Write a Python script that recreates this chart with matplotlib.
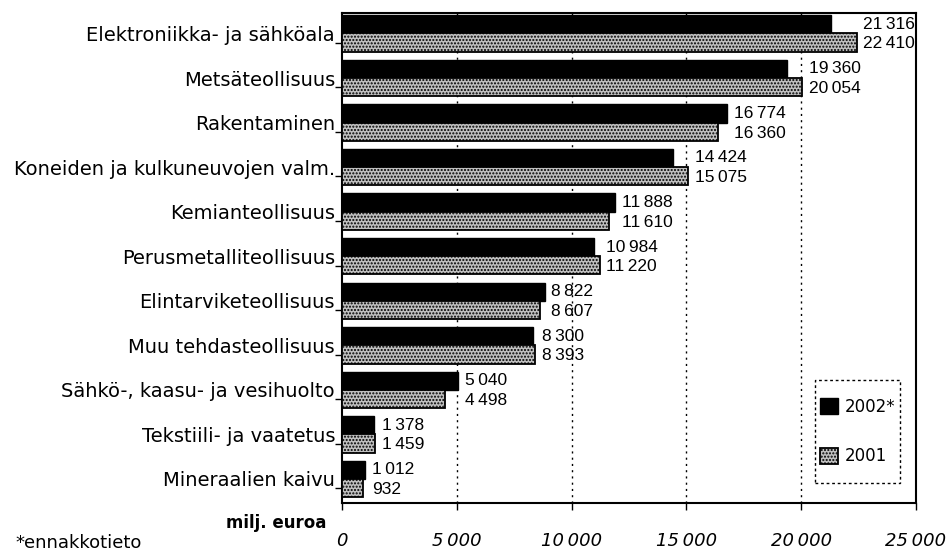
import numpy as np
import matplotlib
matplotlib.use("Agg")
import matplotlib.pyplot as plt
from matplotlib.patches import Patch, Rectangle

categories = ["Elektroniikka- ja sähköala", "Metsäteollisuus", "Rakentaminen",
              "Koneiden ja kulkuneuvojen valm.", "Kemianteollisuus",
              "Perusmetalliteollisuus", "Elintarviketeollisuus",
              "Muu tehdasteollisuus", "Sähkö-, kaasu- ja vesihuolto",
              "Tekstiili- ja vaatetus", "Mineraalien kaivu"]
v2002 = [21316, 19360, 16774, 14424, 11888, 10984, 8822, 8300, 5040, 1378, 1012]
v2001 = [22410, 20054, 16360, 15075, 11610, 11220, 8607, 8393, 4498, 1459, 932]
xticks = [0, 5000, 10000, 15000, 20000, 25000]


def fmt(v):
    return f"{v:,}".replace(",", "\u2009")


plt.rcParams['font.family'] = ['DejaVu Sans']
plt.rcParams['hatch.color'] = '#707070'
plt.rcParams['hatch.linewidth'] = 1.0

W, H = 946, 555
fig = plt.figure(figsize=(W / 100, H / 100), dpi=100)
ax = fig.add_axes([342 / W, 52 / H, 574 / W, 490 / H])

n = len(categories)
y = np.arange(n)
h = 0.41
ax.barh(y - 0.04 - h / 2, v2002, height=h, color='black', edgecolor='black', lw=1, zorder=3)
ax.barh(y - 0.04 + h / 2, v2001, height=h, color='#c0c0c0', edgecolor='black', lw=1.3,
        hatch='.....', zorder=3)

for i in range(n):
    xpos = max(v2002[i], v2001[i]) + 300
    ax.text(xpos, y[i] - 0.04 - h / 2, fmt(v2002[i]), va='center', ha='left', fontsize=12.5,
            family='Liberation Sans')
    ax.text(xpos, y[i] - 0.04 + h / 2 + 0.03, fmt(v2001[i]), va='center', ha='left',
            fontsize=12.5, family='Liberation Sans')

ax.set_xlim(0, 25000)
ax.set_ylim(n - 0.5, -0.5)
ax.set_xticks(xticks)
ax.set_xticklabels([fmt(t) for t in xticks], fontsize=13, style='italic')
ax.tick_params(axis='x', pad=16, length=5, width=1)
ax.set_yticks(y - 0.04)
ax.set_yticklabels(categories, fontsize=14)
ax.set_yticks(y + 0.17, minor=True)
ax.tick_params(axis='y', which='major', length=0, pad=5)
ax.tick_params(axis='y', which='minor', length=5, width=1)

for gx in xticks[1:-1]:
    ax.axvline(gx, color='black', ls=(0, (1.5, 3)), lw=1, zorder=1)

for s in ax.spines.values():
    s.set_linewidth(1.5)

# legend with its own dashed box
handles = [Patch(facecolor='black', edgecolor='black', lw=1),
           Patch(facecolor='#c0c0c0', edgecolor='black', lw=1.3, hatch='.....')]
fig.legend(handles, ['2002*', '2001'], loc='center',
           bbox_to_anchor=((815 + 900) / 2 / W, 1 - (380 + 483) / 2 / H),
           fontsize=12, frameon=False, handlelength=1.1, handleheight=1.1,
           labelspacing=1.9, borderpad=0, handletextpad=0.4)
fig.patches.append(Rectangle((815 / W, 1 - 483 / H), 85 / W, 103 / H,
                             transform=fig.transFigure, fill=False, edgecolor='black',
                             lw=1, ls=(0, (2, 2)), zorder=5))

fig.text(0.345, 0.058, "milj. euroa", ha='right', va='center', fontsize=12, weight='bold')
fig.text(0.016, 0.022, "*ennakkotieto", ha='left', va='center', fontsize=13)

fig.savefig("out.png", dpi=100)
